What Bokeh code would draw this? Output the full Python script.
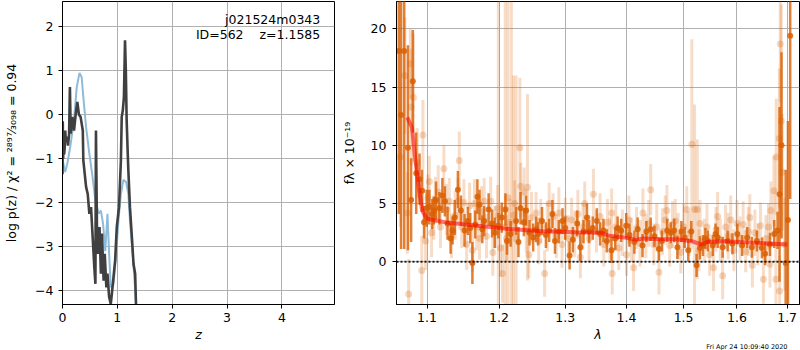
import numpy as np
from bokeh.plotting import figure
from bokeh.layouts import row
from bokeh.models import (ColumnDataSource, FixedTicker, PrintfTickFormatter,
                          Span, Label, Range1d, Title)
from bokeh.embed import file_html
from bokeh.resources import INLINE

# ---------------- left panel: log p(z) ----------------
z_ticks = [0, 1, 2, 3, 4]
logp_ticks = [-4, -3, -2, -1, 0, 1, 2]

z_blue = [0.00, 0.03, 0.05, 0.09, 0.14, 0.21, 0.26, 0.31, 0.35, 0.38,
          0.43, 0.49, 0.54, 0.60, 0.66, 0.70, 0.74, 0.78, 0.82, 0.85,
          0.88, 0.93, 0.98, 1.02, 1.065, 1.11, 1.16, 1.20, 1.23, 1.28,
          1.33, 1.36]
logp_blue = [-1.00, -1.20, -1.30, -1.10, -0.74, -0.13, 0.63, 0.95, 0.85, 0.40,
             -0.28, -0.89, -1.34, -1.95, -2.25, -2.18, -2.48, -3.10, -2.25, -3.16,
             -3.92, -3.84, -3.16, -2.40, -1.80, -1.48, -1.53, -1.80, -2.40, -3.16,
             -4.06, -4.60]

z_dark = [0.000, 0.005, 0.012, 0.020, 0.030, 0.040, 0.050, 0.060, 0.080, 0.100,
          0.120, 0.135, 0.150, 0.180, 0.210, 0.240, 0.270, 0.300, 0.330, 0.370,
          0.380, 0.430, 0.460, 0.490, 0.520, 0.550, 0.580, 0.600, 0.610, 0.630,
          0.650, 0.675, 0.700, 0.720, 0.750, 0.770, 0.800, 0.820, 0.850, 0.880,
          0.900, 0.960, 0.990, 1.030, 1.065, 1.080, 1.100, 1.120, 1.140, 1.155,
          1.170, 1.190, 1.200, 1.230, 1.265, 1.295, 1.325, 1.340, 1.360]
logp_dark = [-1.35, -0.15, -1.00, -0.55, -0.90, -0.75, -0.36, -0.60, -0.50, -0.70,
             -0.45, 0.63, -0.43, -0.05, -0.36, 0.00, 0.29, 0.00, -0.05, -0.36,
             -1.04, -1.64, -1.80, -2.25, -2.10, -2.78, -3.46, -3.84, -0.36, -2.78,
             -3.16, -2.55, -3.61, -2.70, -3.77, -3.16, -3.92, -3.61, -4.14, -4.30,
             -4.07, -3.31, -2.55, -2.10, -1.04, -0.05, 0.10, 0.40, 1.69, 1.00,
             -0.13, -0.89, -1.24, -2.10, -2.78, -3.39, -3.61, -4.30, -4.70]

field_name = "j021524m0343"
obj_line = "ID=562\u00a0\u00a0\u00a0\u00a0z=1.1585"

# ---------------- right panel: spectrum ----------------
lam_ticks = [1.1, 1.2, 1.3, 1.4, 1.5, 1.6, 1.7]
flux_ticks = [0, 5, 10, 15, 20]

lam_dark = [1.0631, 1.0660, 1.0700, 1.0749, 1.0790, 1.0812, 1.0857, 1.0900, 1.0935, 1.0960,
            1.0995, 1.1030, 1.1070, 1.1090, 1.1120, 1.1165, 1.1206, 1.1240, 1.1276, 1.1318,
            1.1345, 1.1375, 1.1418, 1.1459, 1.1510, 1.1556, 1.1590, 1.1620, 1.1660, 1.1690,
            1.1720, 1.1760, 1.1786, 1.1850, 1.1900, 1.1940, 1.1990, 1.2040, 1.2093, 1.2116,
            1.2170, 1.2250, 1.2285, 1.2316, 1.2366, 1.2400, 1.2450, 1.2505, 1.2550, 1.2580,
            1.2640, 1.2700, 1.2750, 1.2800, 1.2840, 1.2900, 1.2957, 1.3000, 1.3069, 1.3120,
            1.3190, 1.3240, 1.3290, 1.3346, 1.3380, 1.3440, 1.3506, 1.3560, 1.3614, 1.3670,
            1.3748, 1.3810, 1.3850, 1.3910, 1.3994, 1.4050, 1.4133, 1.4190, 1.4273, 1.4340,
            1.4415, 1.4480, 1.4558, 1.4610, 1.4706, 1.4770, 1.4832, 1.4888, 1.4960, 1.5020,
            1.5085, 1.5140, 1.5237, 1.5300, 1.5355, 1.5400, 1.5447, 1.5539, 1.5590, 1.5631,
            1.5725, 1.5820, 1.5912, 1.6007, 1.6100, 1.6197, 1.6290, 1.6390, 1.6490, 1.6553,
            1.6650, 1.6737, 1.6804, 1.6845, 1.6885, 1.6970, 1.7017, 1.7063]
flux_dark = [18.1, 12.6, 18.1, 9.8, 5.3, 15.5, 7.6, 7.1, 6.1, 3.4,
             4.6, 4.7, 4.1, 4.4, 5.3, 4.6, 5.7, 5.2, 3.3, 2.0,
             2.7, 3.8, 6.2, 4.4, 2.7, 3.5, 2.9, -0.1, 3.2, 5.6,
             4.9, 2.8, 3.5, 4.5, 3.3, 2.5, 3.1, 3.8, 4.5, 1.8,
             2.4, 3.5, 1.7, 4.6, 3.4, 4.4, 2.5, 2.1, 2.8, 2.4,
             3.5, 2.3, 2.7, 4.1, 1.8, 2.6, 3.5, 2.9, 0.55, 1.9,
             3.3, 1.25, 2.6, 3.8, 2.6, 2.9, 3.5, 2.4, 2.7, 1.8,
             1.0, 2.0, 2.9, 2.7, 3.1, 2.3, 1.7, 2.8, 1.4, 2.6,
             2.8, 2.2, 1.1, 1.8, 2.7, 2.5, 2.7, 1.25, 2.6, 2.1,
             1.0, 2.6, -0.3, 1.2, 1.4, 2.0, 1.8, 1.4, 2.4, 2.1,
             1.25, 1.8, 1.55, 2.4, 1.4, 2.1, 1.25, 1.8, 1.2, 0.7,
             1.5, 2.4, 2.7, 5.8, 10.0, -0.1, 3.6, 19.4]
err_dark = [14.0, 11.5, 17.0, 8.8, 3.6, 4.4, 3.5, 2.2, 1.8, 1.4,
            1.6, 1.5, 1.3, 1.2, 1.6, 1.4, 1.5, 1.3, 1.4, 1.3,
            1.2, 1.5, 1.6, 1.3, 1.4, 1.2, 1.3, 1.8, 1.2, 1.5,
            1.3, 1.2, 1.3, 1.4, 1.2, 1.3, 1.1, 1.3, 1.4, 1.2,
            1.1, 1.2, 1.3, 1.4, 1.2, 1.3, 1.1, 1.2, 1.1, 1.0,
            1.2, 1.1, 1.0, 1.2, 1.1, 1.0, 1.1, 1.0, 1.2, 1.1,
            1.1, 1.2, 1.0, 1.2, 1.0, 1.0, 1.1, 1.0, 1.0, 1.0,
            1.1, 1.0, 1.0, 1.0, 1.1, 1.0, 1.0, 1.0, 1.0, 0.9,
            1.0, 0.9, 1.0, 0.9, 1.0, 0.9, 1.0, 1.0, 0.9, 0.9,
            1.0, 0.9, 1.0, 1.0, 0.9, 0.9, 0.9, 0.9, 0.9, 0.9,
            0.9, 0.9, 0.9, 0.9, 0.9, 0.9, 0.9, 0.9, 0.9, 1.0,
            1.0, 1.2, 1.6, 7.5, 8.0, 8.0, 8.5, 14.0]

lam_light = [1.0650, 1.0710, 1.0740, 1.0758, 1.0780, 1.0792, 1.0820, 1.0870, 1.0930, 1.0945,
             1.0980, 1.1010, 1.1030, 1.1060, 1.1090, 1.1110, 1.1150, 1.1180, 1.1226, 1.1260,
             1.1300, 1.1330, 1.1380, 1.1420, 1.1437, 1.1470, 1.1500, 1.1540, 1.1580, 1.1620,
             1.1650, 1.1680, 1.1720, 1.1750, 1.1786, 1.1820, 1.1880, 1.1910, 1.1940, 1.1980,
             1.1990, 1.2020, 1.2050, 1.2090, 1.2110, 1.2130, 1.2160, 1.2180, 1.2210, 1.2230,
             1.2250, 1.2306, 1.2320, 1.2370, 1.2400, 1.2420, 1.2440, 1.2480, 1.2550, 1.2590,
             1.2620, 1.2680, 1.2720, 1.2750, 1.2810, 1.2860, 1.2900, 1.2950, 1.3000, 1.3050,
             1.3100, 1.3150, 1.3200, 1.3240, 1.3280, 1.3310, 1.3380, 1.3450, 1.3500, 1.3560,
             1.3620, 1.3680, 1.3720, 1.3750, 1.3760, 1.3820, 1.3870, 1.3930, 1.4000, 1.4040,
             1.4080, 1.4120, 1.4170, 1.4230, 1.4280, 1.4330, 1.4380, 1.4415, 1.4470, 1.4520,
             1.4560, 1.4620, 1.4670, 1.4700, 1.4750, 1.4800, 1.4850, 1.4900, 1.4950, 1.5000,
             1.5057, 1.5100, 1.5150, 1.5200, 1.5250, 1.5280, 1.5300, 1.5380, 1.5430, 1.5480,
             1.5552, 1.5600, 1.5630, 1.5680, 1.5725, 1.5780, 1.5830, 1.5880, 1.5940, 1.6000,
             1.6060, 1.6120, 1.6170, 1.6220, 1.6250, 1.6300, 1.6350, 1.6410, 1.6460, 1.6520,
             1.6570, 1.6620, 1.6650, 1.6670, 1.6730, 1.6770, 1.6777, 1.6840, 1.6845, 1.6860,
             1.6880, 1.6900, 1.6950]
flux_light = [9.0, 16.0, 4.2, -2.75, 17.0, 13.3, 14.1, 8.5, -0.75, 10.9,
              1.8, 5.5, 6.9, 2.5, 3.8, 5.3, 6.0, 3.0, 8.0, 4.5,
              5.2, 2.2, 4.0, 5.2, 8.7, 3.0, 5.1, 1.5, 4.8, 1.0,
              5.0, 3.0, 2.0, 4.3, 5.2, 2.2, 5.2, 0.8, 3.0, 4.6,
              4.0, 1.2, -1.0, 3.0, 2.0, 5.5, 3.4, 2.5, 4.0, 5.0,
              2.0, 9.8, 6.5, 6.0, 2.7, 6.4, 0.6, 3.8, 4.2, 1.8,
              3.5, -1.0, 3.0, 5.0, 3.9, 2.2, 4.2, 1.5, 3.7, 2.0,
              3.6, 2.4, 4.1, 0.4, 3.0, 5.0, 2.0, 5.8, 2.6, 3.9,
              1.5, 3.4, 2.0, 4.2, -1.0, 3.0, 1.2, 2.5, 0.6, 3.6,
              1.9, -0.5, 2.9, 1.6, 4.2, 2.2, 3.3, 6.2, 1.5, 3.0,
              -0.9, 2.6, 3.6, 4.4, 1.4, 3.2, 3.5, 2.2, 0.8, 3.0,
              4.5, 2.4, 10.1, 4.5, 4.5, 1.0, 3.3, 1.8, 3.0, 0.6,
              -0.5, 2.8, 3.9, 1.9, -1.2, 3.0, 2.2, 3.6, 1.0, 3.3,
              2.0, 3.2, 0.9, 2.6, 3.8, -0.3, 2.5, 1.5, 3.1, -1.5,
              2.0, 3.0, -0.2, 4.4, 6.1, -1.5, 9.0, 10.6, -2.5, 18.7,
              12.1, 7.7, 1.5]
err_light = [6.0, 5.0, 3.5, 3.0, 3.0, 5.0, 5.5, 3.0, 3.0, 3.0,
             2.5, 2.0, 2.2, 2.1, 1.9, 2.0, 2.3, 1.8, 2.0, 2.2,
             2.0, 1.9, 2.1, 2.0, 2.5, 1.8, 2.0, 2.2, 2.0, 1.9,
             2.1, 2.0, 1.8, 2.2, 2.0, 1.9, 2.1, 2.0, 1.8, 2.0,
             20.0, 2.5, 2.5, 22.0, 2.0, 17.0, 2.0, 20.0, 12.0, 2.0,
             14.0, 6.0, 2.0, 2.1, 1.9, 8.0, 2.0, 2.2, 1.8, 2.0,
             1.9, 2.0, 2.1, 1.8, 2.0, 1.9, 2.2, 2.0, 1.8, 2.0,
             1.9, 2.0, 2.1, 1.8, 2.0, 1.9, 2.0, 2.2, 1.8, 2.0,
             1.9, 2.0, 1.8, 2.1, 1.8, 2.0, 1.9, 2.0, 1.8, 2.1,
             1.9, 2.0, 1.8, 2.0, 2.1, 1.9, 2.0, 2.2, 1.8, 2.0,
             1.9, 2.0, 2.1, 2.2, 1.8, 2.0, 1.9, 2.0, 1.8, 2.0,
             2.0, 1.9, 9.0, 9.0, 6.0, 1.8, 2.0, 1.9, 2.0, 1.8,
             2.0, 1.9, 2.1, 1.8, 2.0, 1.9, 2.0, 2.1, 1.8, 2.0,
             1.9, 2.0, 1.8, 2.1, 2.0, 1.9, 2.0, 1.8, 2.0, 2.1,
             2.0, 2.0, 2.0, 2.5, 3.0, 3.0, 5.0, 6.0, 3.0, 5.0,
             10.0, 5.0, 4.0]

model_lam = [1.0740, 1.0800, 1.0846, 1.0890, 1.0935, 1.1000, 1.1240, 1.1689, 1.2160, 1.2650,
             1.3170, 1.3590, 1.3690, 1.4000, 1.4160, 1.4280, 1.4570, 1.4860, 1.5150, 1.5330,
             1.5430, 1.5760, 1.6400, 1.7000]
model_flux = [12.4, 11.55, 8.7, 6.4, 4.4, 3.7, 3.4, 3.1, 2.83, 2.63,
              2.54, 2.49, 2.26, 2.06, 1.89, 2.0, 1.94, 1.94, 1.77, 1.49,
              1.7, 1.77, 1.63, 1.49]

timestamp = "Fri Apr 24 10:09:40 2020"

FONT = "DejaVu Sans"
FS = "12.5px"
ORANGE = "#d95f02"


def minus(v):
    return ("\u2212" + str(abs(v))) if v < 0 else str(v)


def style(p, lstand, lab_stand):
    p.outline_line_color = "black"
    p.outline_line_width = 1
    p.outline_line_alpha = 1
    p.background_fill_color = "white"
    p.border_fill_color = "white"
    for ax in (p.xaxis, p.yaxis):
        ax.axis_line_color = "black"
        ax.major_tick_line_color = "black"
        ax.major_tick_out = 4
        ax.major_tick_in = 0
        ax.minor_tick_line_color = None
        ax.major_label_text_font = FONT
        ax.major_label_text_font_size = FS
        ax.major_label_text_color = "black"
        ax.axis_label_text_font = FONT
        ax.axis_label_text_font_size = FS
        ax.axis_label_text_color = "black"
    p.xaxis.major_label_standoff = 4
    p.xaxis.axis_label_standoff = 2
    p.yaxis.major_label_standoff = lstand
    p.yaxis.axis_label_standoff = lab_stand
    p.yaxis.axis_label_text_font_style = "normal"
    p.xaxis.axis_label_text_font_style = "italic"
    p.grid.grid_line_color = "#b0b0b0"
    p.grid.grid_line_width = 1


# ---- left figure ----
p1 = figure(width=338, height=350, x_range=Range1d(0, 4.96), y_range=Range1d(-4.31, 2.57),
            output_backend="svg", toolbar_location=None,
            min_border_left=62, min_border_right=4, min_border_top=1, min_border_bottom=46)
style(p1, 5, 13)
zt = FixedTicker(ticks=z_ticks, minor_ticks=[])
lt = FixedTicker(ticks=logp_ticks, minor_ticks=[])
p1.xaxis.ticker = zt
p1.yaxis.ticker = lt
p1.xgrid.ticker = zt
p1.ygrid.ticker = lt
p1.yaxis.major_label_overrides = {v: minus(v) for v in logp_ticks}
p1.xaxis.axis_label = "z"
p1.yaxis.axis_label = "log p(z) / \u03c7\u00b2 = \u00b2\u2078\u2079\u2077\u2044\u2083\u2080\u2089\u2088 = 0.94"

p1.line(z_blue, logp_blue, line_color="#8fbbd9", line_width=2)
p1.line(z_dark, logp_dark, line_color="#404040", line_width=2.6)

p1.add_layout(Label(x=4.70, y=2.16, text=field_name, text_align="right", text_baseline="middle",
                    text_font=FONT, text_font_size=FS, text_color="black"))
p1.add_layout(Label(x=4.70, y=1.81, text=obj_line, text_align="right", text_baseline="middle",
                    text_font=FONT, text_font_size=FS, text_color="black"))

# ---- right figure ----
p2 = figure(width=462, height=350, x_axis_type="log",
            x_range=Range1d(1.0601, 1.7256), y_range=Range1d(-3.66, 22.35),
            output_backend="svg", toolbar_location=None,
            min_border_left=53, min_border_right=1, min_border_top=1, min_border_bottom=46)
style(p2, 6, 11)
xt = FixedTicker(ticks=lam_ticks, minor_ticks=[])
yt = FixedTicker(ticks=flux_ticks, minor_ticks=[])
p2.xaxis.ticker = xt
p2.yaxis.ticker = yt
p2.xgrid.ticker = xt
p2.ygrid.ticker = yt
p2.xaxis.formatter = PrintfTickFormatter(format="%.1f")
p2.xaxis.axis_label = "\u03bb"
p2.yaxis.axis_label = "f\u03bb \u00d7 10\u207b\u00b9\u2079"

fl = np.array(flux_light)
el = np.array(err_light)
src_l = ColumnDataSource(dict(lam=lam_light, flux=flux_light, lo=fl - el, hi=fl + el))
fd = np.array(flux_dark)
ed = np.array(err_dark)
src_d = ColumnDataSource(dict(lam=lam_dark, flux=flux_dark, lo=fd - ed, hi=fd + ed))

p2.segment(x0="lam", y0="lo", x1="lam", y1="hi", source=src_l,
           line_color=ORANGE, line_alpha=0.22, line_width=3)
p2.scatter("lam", "flux", source=src_l, size=7, fill_color=ORANGE, fill_alpha=0.25,
           line_color=None)
p2.segment(x0="lam", y0="lo", x1="lam", y1="hi", source=src_d,
           line_color=ORANGE, line_alpha=0.8, line_width=2.5)
p2.scatter("lam", "flux", source=src_d, size=6, fill_color=ORANGE, fill_alpha=0.85,
           line_color=None)
p2.line(model_lam, model_flux, line_color="red", line_alpha=0.55, line_width=4)
p2.add_layout(Span(location=0, dimension="width", line_color="black", line_width=2,
                   line_dash="2 2", line_alpha=0.85))

stamp = Title(text=timestamp, align="right", text_font=FONT, text_font_size="6.5px",
              text_font_style="normal", text_color="black", standoff=-12, offset=12)
p2.add_layout(stamp, "below")

layout = row(p1, p2)
open("out.html", "w").write(file_html(layout, INLINE))
